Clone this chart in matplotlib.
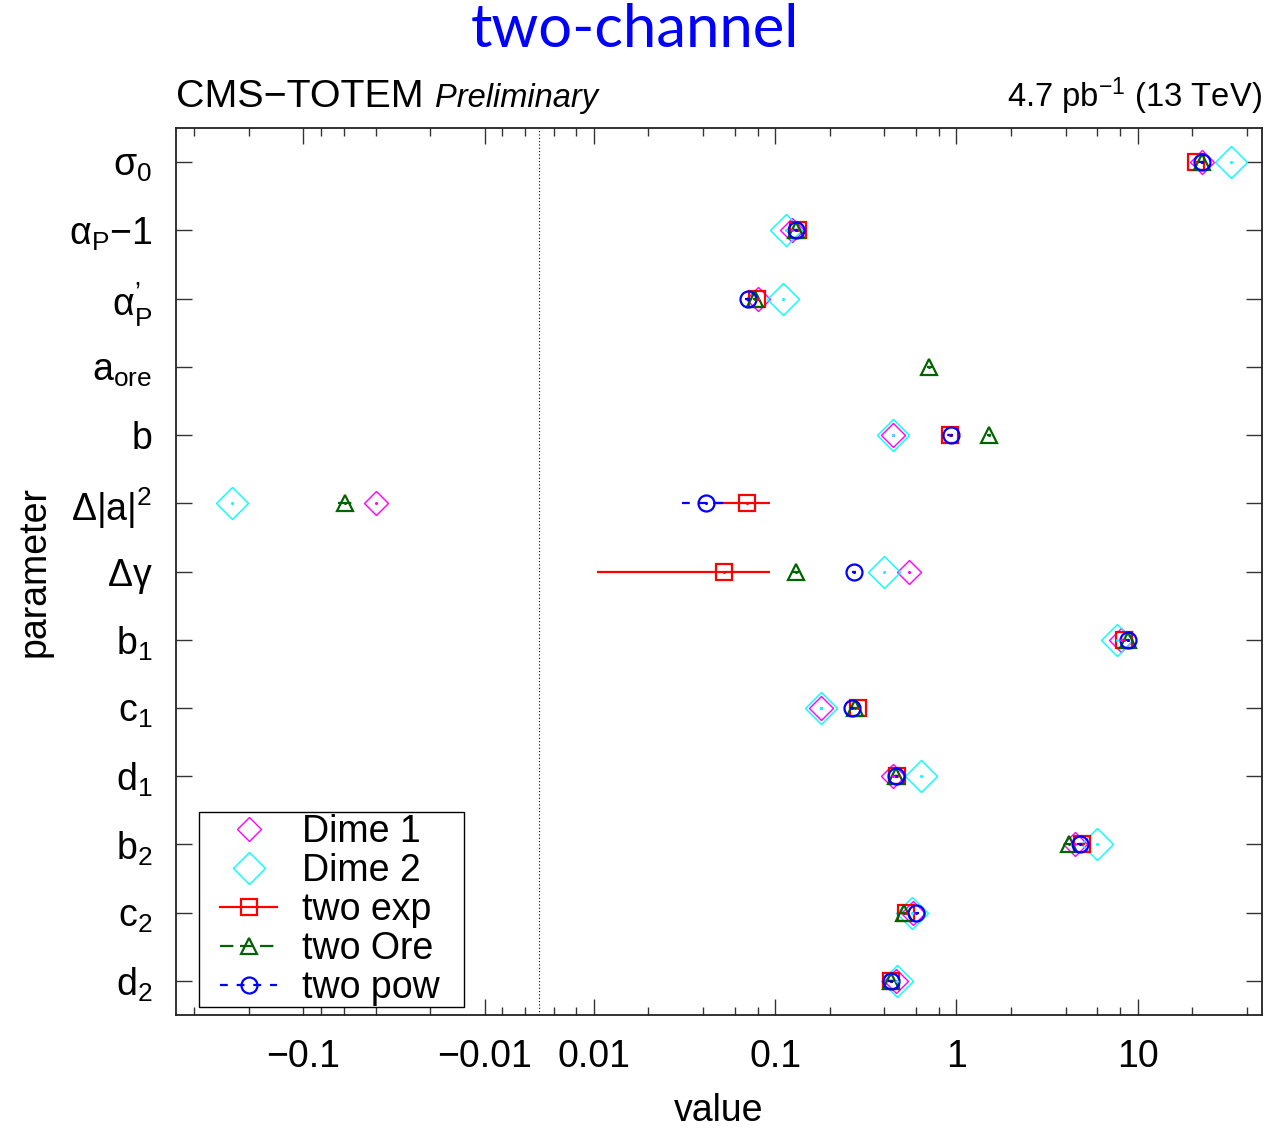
import numpy as np
import matplotlib
matplotlib.use("Agg")
import matplotlib.pyplot as plt
from matplotlib.lines import Line2D
from matplotlib.patches import Rectangle

plt.rcParams['font.family'] = ['Liberation Sans', 'DejaVu Sans']
plt.rcParams['mathtext.fontset'] = 'custom'
plt.rcParams['mathtext.rm'] = 'Liberation Sans'
plt.rcParams['mathtext.it'] = 'Liberation Sans:italic'
plt.rcParams['mathtext.default'] = 'regular'
plt.rcParams['axes.unicode_minus'] = True

# parameters, top to bottom
params = [r"$\sigma_0$", r"$\alpha_P$" + "\u22121", "$\\alpha^{\u2019}_P$", r"$a_{ore}$", "b",
          r"$\Delta|a|^2$", r"$\Delta\gamma$", r"$b_1$", r"$c_1$", r"$d_1$",
          r"$b_2$", r"$c_2$", r"$d_2$"]

nan = np.nan
dime1 = [22.7, 0.124, 0.0805, nan, 0.449, -0.0399, 0.549, 8.09, 0.178, 0.444, 4.53, 0.578, 0.462]
dime2 = [32.8, 0.115, 0.110, nan, 0.449, -0.249, 0.398, 7.71, 0.178, 0.634, 5.99, 0.570, 0.473]

two_exp = [21.0, 0.134, 0.0789, nan, 0.916, 0.0697, 0.0519, 8.40, 0.288, 0.473, 4.95, 0.530, 0.433]
two_exp_err = [0.6, 0.004, 0.002, nan, 0.03, 0.0243, 0.0415, 0.2, 0.008, 0.012, 0.15, 0.015, 0.012]

two_ore = [22.7, 0.130, 0.0771, 0.71, 1.51, -0.0588, 0.130, 8.81, 0.274, 0.462, 4.16, 0.517, 0.438]
two_ore_err = [0.6, 0.004, 0.002, 0.02, 0.04, 0.006, 0.006, 0.2, 0.008, 0.012, 0.12, 0.03, 0.012]

two_pow = [22.5, 0.130, 0.0706, nan, 0.928, 0.0418, 0.272, 8.81, 0.267, 0.467, 4.78, 0.600, 0.433]
two_pow_err = [0.6, 0.004, 0.002, nan, 0.03, 0.011, 0.008, 0.2, 0.008, 0.012, 0.15, 0.018, 0.012]

# two-sided log axis: |x| below ZCUT collapses onto the dotted zero line
ZCUT = 0.005


def fwd(v):
    v = np.asarray(v, float)
    return np.sign(v) * np.log10(np.maximum(np.abs(v), ZCUT) / ZCUT)


def inv(u):
    u = np.asarray(u, float)
    return np.sign(u) * ZCUT * 10 ** np.abs(u)


W, H = 1269, 1129
fig = plt.figure(figsize=(W / 100, H / 100), dpi=100)
ax = fig.add_axes([176 / W, 1 - 1015 / H, (1262 - 176) / W, (1015 - 128) / H])
ax.set_xscale('function', functions=(fwd, inv))

y = np.arange(len(params))

ax.axvline(0, color='black', lw=0.8, ls=(0, (1, 2)), zorder=1)


def center_dots(xs, color):
    ax.plot(xs, y, ls='none', marker='o', ms=1.2, mec=color, mfc=color, zorder=6)


ax.plot(dime1, y, ls='none', marker='D', ms=12, mfc='none', mec='magenta', mew=1.0, zorder=3)
center_dots(dime1, 'magenta')
ax.plot(dime2, y, ls='none', marker='D', ms=16.5, mfc='none', mec='cyan', mew=1.0, zorder=3)
center_dots(dime2, 'cyan')

e = ax.errorbar(two_exp, y, xerr=two_exp_err, ls='none', marker='s', ms=11.5, mfc='none',
                mec='red', mew=1.6, ecolor='red', elinewidth=1.6, capsize=0, zorder=4)
center_dots(two_exp, 'red')

e = ax.errorbar(two_ore, y, xerr=two_ore_err, ls='none', marker='^', ms=12, mfc='none',
                mec='darkgreen', mew=1.6, ecolor='darkgreen', elinewidth=1.6, capsize=0, zorder=4)
e[2][0].set_linestyle((0, (6, 3)))
center_dots(two_ore, 'darkgreen')

e = ax.errorbar(two_pow, y, xerr=two_pow_err, ls='none', marker='o', ms=11.5, mfc='none',
                mec='blue', mew=1.6, ecolor='blue', elinewidth=1.6, capsize=0, zorder=5)
e[2][0].set_linestyle((0, (3.5, 4)))
center_dots(two_pow, 'blue')

ax.set_xlim(-0.505, 48.5)
ax.set_ylim(len(params) - 0.5, -0.5)

major = [-0.1, -0.01, 0.01, 0.1, 1, 10]
ax.set_xticks(major)
ax.set_xticklabels(["\u22120.1", "\u22120.01", "0.01", "0.1", "1", "10"])
minor = [-0.4, -0.2, -0.08, -0.06, -0.04, -0.02, -0.008, -0.006,
         0.006, 0.008, 0.02, 0.04, 0.06, 0.08, 0.2, 0.4, 0.6, 0.8,
         2, 4, 6, 8, 20, 40]
ax.set_xticks(minor, minor=True)
ax.set_yticks(y)
ax.set_yticklabels(params)

ax.tick_params(axis='both', which='both', direction='in', top=True, right=True,
               labelsize=27, width=1.0, color='#333333')
ax.tick_params(axis='x', which='major', length=11.5, pad=17.5)
ax.tick_params(axis='x', which='minor', length=5.5)
ax.tick_params(axis='y', which='major', length=11.5, pad=17)
for s in ax.spines.values():
    s.set_linewidth(1.3)
    s.set_color('#222222')

ax.set_xlabel("value", fontsize=27, labelpad=13)
ax.set_ylabel("parameter", fontsize=27, labelpad=12)

handles = [
    Line2D([], [], ls='none', marker='D', ms=12, mfc='none', mec='magenta', mew=1.0),
    Line2D([], [], ls='none', marker='D', ms=16.5, mfc='none', mec='cyan', mew=1.0),
    Line2D([], [], color='red', lw=1.6, marker='s', ms=11.5, mfc='none', mec='red', mew=1.6),
    Line2D([], [], color='darkgreen', lw=1.6, ls=(0, (6, 3)), marker='^', ms=12, mfc='none',
           mec='darkgreen', mew=1.6),
    Line2D([], [], color='blue', lw=1.6, ls=(0, (3.5, 4)), marker='o', ms=11.5, mfc='none',
           mec='blue', mew=1.6),
]
labels = ["Dime 1", "Dime 2", "two exp", "two Ore", "two pow"]

# legend box drawn separately: wide side padding, tight rows
box = Rectangle(((199 - 176) / 1086, (1015 - 1007) / 887), 265 / 1086, 195 / 887,
                transform=ax.transAxes, facecolor='white', edgecolor='black',
                lw=1.0, zorder=7)
ax.add_patch(box)
leg = ax.legend(handles, labels, loc='upper left',
                bbox_to_anchor=((220 - 176) / 1086, (1015 - 814) / 887),
                borderaxespad=0, fontsize=27, frameon=False, labelspacing=0.08,
                handlelength=1.52, handletextpad=0.67, borderpad=0)
leg.set_zorder(8)

fig.text(0.5, 1 - 30 / H, "two-channel", color='blue', fontsize=43,
         family=['Lato', 'DejaVu Sans'], ha='center', va='center')
fig.text(176 / W, 1 - 107 / H, "CMS\u2212TOTEM", fontsize=28.4, ha='left', va='baseline')
fig.text(435 / W, 1 - 107 / H, "Preliminary", fontsize=23.5, style='italic',
         ha='left', va='baseline')
fig.text(1262 / W, 1 - 107 / H, r"4.7 pb$^{-1}$ (13 TeV)", fontsize=23.6,
         ha='right', va='baseline')

fig.savefig("out.png", dpi=100)
